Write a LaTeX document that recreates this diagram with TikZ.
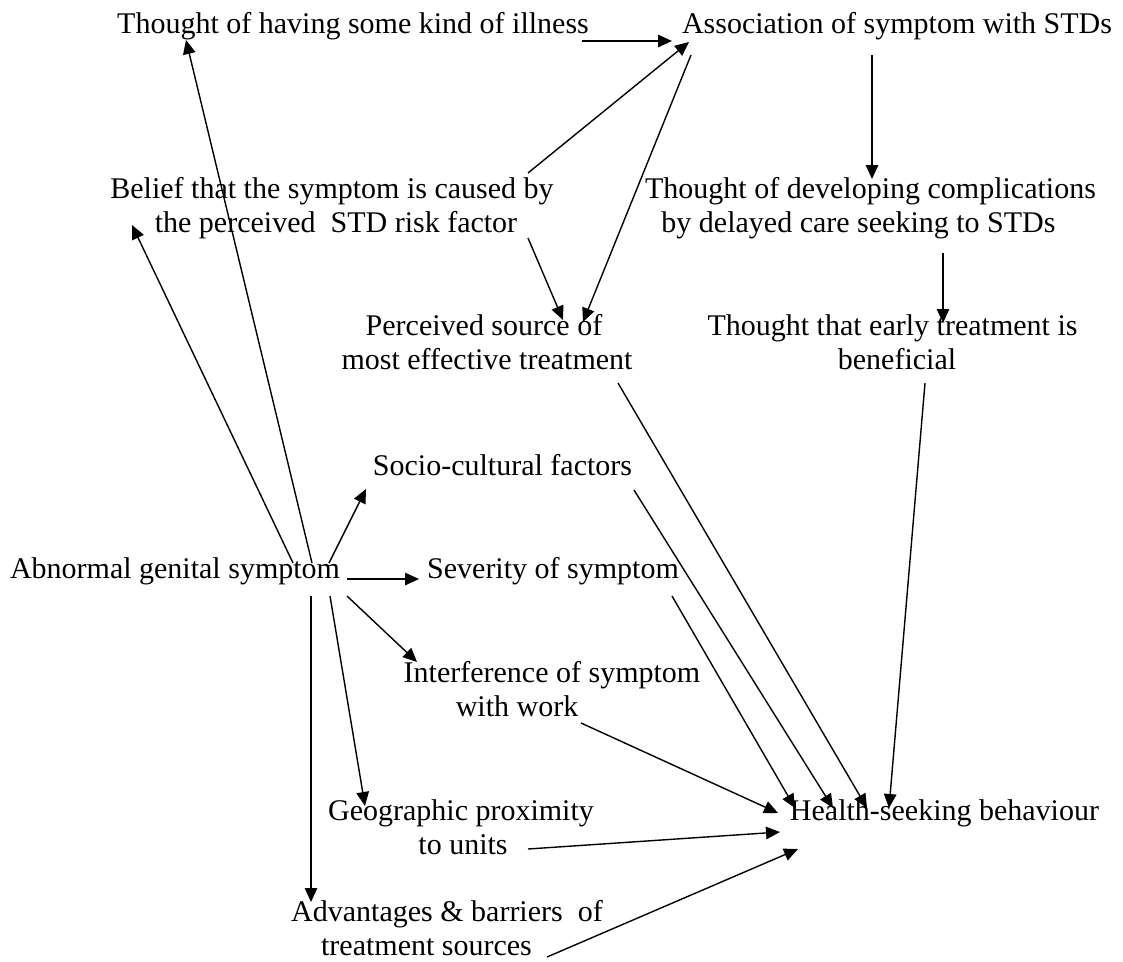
\documentclass[tikz,border=0pt]{standalone}
\usepackage{fontspec}
\setmainfont{Liberation Serif}
\usetikzlibrary{arrows.meta}
\tikzset{
  lbl/.style={anchor=base, inner sep=0pt, align=center, font=\fontsize{30}{34.5}\selectfont},
  conn/.style={-{Triangle[length=14pt,width=12.5pt]}, line width=1.4pt}
}
\begin{document}
\begin{tikzpicture}[x=1pt,y=-1pt]
\fill[white] (0,0) rectangle (1123,961);
\useasboundingbox (0,0) rectangle (1123,961);
% nodes (base = baseline of the last line)
\node[lbl] (T1) at (353,33) {Thought of having some kind of illness};
\node[lbl] (A) at (897,33) {Association of symptom with STDs};
\node[lbl] (B) at (332,232.5) {Belief that the symptom is caused by\\\hspace*{8pt}the perceived\ \ STD risk factor};
\node[lbl] (C) at (870.5,232.5) {Thought of developing complications\\by delayed care seeking to STDs\hspace*{24pt}};
\node[lbl] (P) at (484,369.5) {Perceived source of\\\hspace*{6pt}most effective treatment};
\node[lbl] (E) at (892.5,369.5) {Thought that early treatment is\\\hspace*{9pt}beneficial};
\node[lbl] (S) at (502.5,475) {Socio-cultural factors};
\node[lbl] (AG) at (175,578) {Abnormal genital symptom};
\node[lbl] (SV) at (553,578) {Severity of symptom};
\node[lbl] (I) at (552,716.5) {Interference of symptom\\with work\hspace*{70pt}};
\node[lbl] (G) at (461,854.5) {Geographic proximity\\\hspace*{4pt}to units};
\node[lbl] (H) at (944.5,820) {Health-seeking behaviour};
\node[lbl] (AD) at (447,955.5) {Advantages \& barriers\ \ of\\treatment sources\hspace*{41pt}};
% connectors
\draw[conn] ([shift={(229,8)}]T1.base) -- ([shift={(-225,8)}]A.base);
\draw[conn] ([shift={(196,-59.5)}]B.base) -- ([shift={(-208,9)}]A.base);
\draw[conn] ([shift={(-206,22)}]A.base) -- ([shift={(99,-47.5)}]P.base);
\draw[conn] ([shift={(196,5.5)}]B.base) -- ([shift={(79,-49.5)}]P.base);
\draw[conn] ([shift={(-25,22)}]A.base) -- ([shift={(1.5,-53.5)}]C.base);
\draw[conn] ([shift={(72.5,20.5)}]C.base) -- ([shift={(50.5,-46.5)}]E.base);
\draw[conn] ([shift={(32.5,13.5)}]E.base) -- ([shift={(-55.5,-12)}]H.base);
\draw[conn] ([shift={(134,13.5)}]P.base) -- ([shift={(-77.5,-12)}]H.base);
\draw[conn] ([shift={(131.5,15)}]S.base) -- ([shift={(-111.5,-12)}]H.base);
\draw[conn] ([shift={(119,18)}]SV.base) -- ([shift={(-149.5,-12)}]H.base);
\draw[conn] ([shift={(29,6.5)}]I.base) -- ([shift={(-166.5,-7)}]H.base);
\draw[conn] ([shift={(67,-5.5)}]G.base) -- ([shift={(-164.5,12)}]H.base);
\draw[conn] ([shift={(100,1.5)}]AD.base) -- ([shift={(-146.5,29)}]H.base);
\draw[conn] ([shift={(137,-15)}]AG.base) -- ([shift={(-167,7)}]T1.base);
\draw[conn] ([shift={(118,-15)}]AG.base) -- ([shift={(-200,-7.5)}]B.base);
\draw[conn] ([shift={(154,-15)}]AG.base) -- ([shift={(-136.5,14)}]S.base);
\draw[conn] ([shift={(172,1)}]AG.base) -- ([shift={(-134,1)}]SV.base);
\draw[conn] ([shift={(172,18)}]AG.base) -- ([shift={(-135,-54.5)}]I.base);
\draw[conn] ([shift={(155,18)}]AG.base) -- ([shift={(-96,-48.5)}]G.base);
\draw[conn] ([shift={(136,18)}]AG.base) -- ([shift={(-136,-53.5)}]AD.base);
\end{tikzpicture}
\end{document}
